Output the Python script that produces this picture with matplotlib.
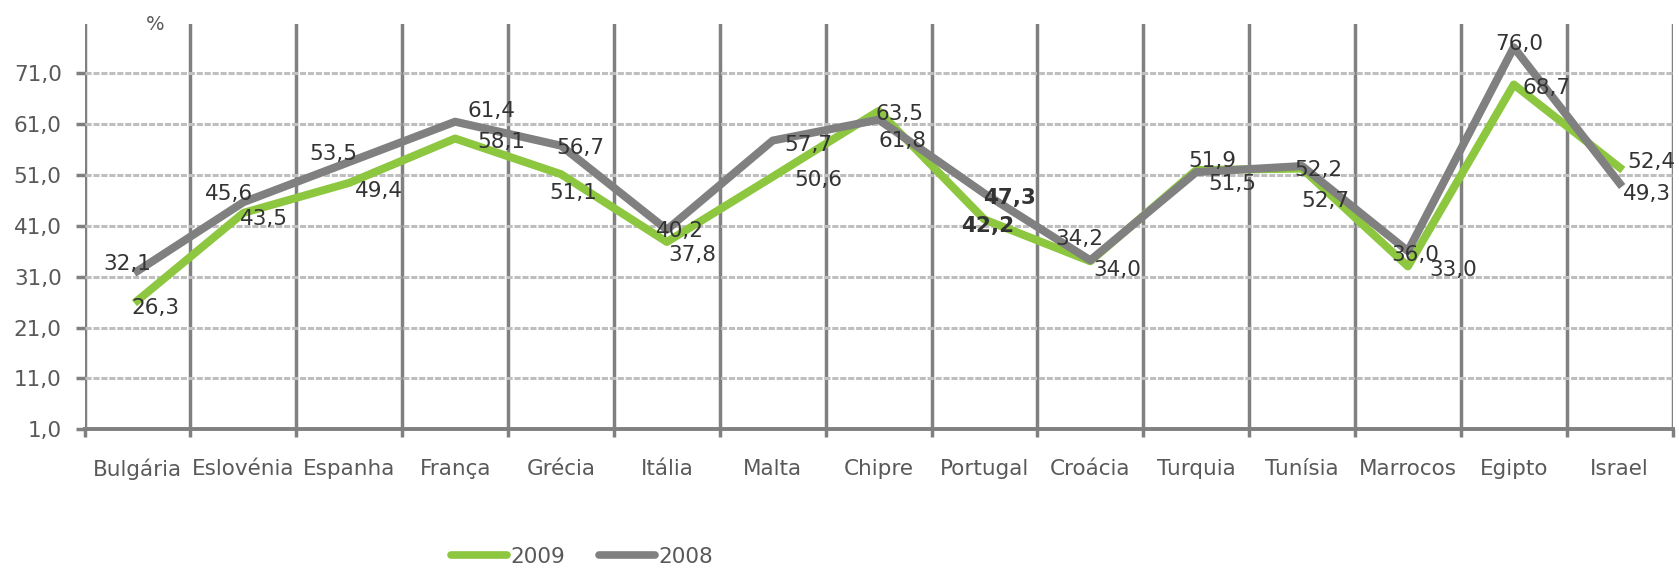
import numpy as np
import matplotlib
matplotlib.use("Agg")
import matplotlib.pyplot as plt
from matplotlib.lines import Line2D

paises = ["Bulgária", "Eslovénia", "Espanha", "França", "Grécia", "Itália", "Malta",
          "Chipre", "Portugal", "Croácia", "Turquia", "Tunísia", "Marrocos", "Egipto", "Israel"]
v2009 = [26.3, 43.5, 49.4, 58.1, 51.1, 37.8, 50.6, 63.5, 42.2, 34.0, 51.9, 52.2, 33.0, 68.7, 52.4]
v2008 = [32.1, 45.6, 53.5, 61.4, 56.7, 40.2, 57.7, 61.8, 47.3, 34.2, 51.5, 52.7, 36.0, 76.0, 49.3]
yticks = [1, 11, 21, 31, 41, 51, 61, 71]

# deslocamentos dos rotulos (pixels, y para baixo)
off09 = [(18, 7), (21, 6), (30, 8), (46, 3), (12, 19), (25, 13), (46, 3), (21, 3),
         (3, 6), (27, 9), (16, -9), (16, 1), (45, 4), (33, 3), (32, -6)]
off08 = [(-10, -7), (-14, -8), (-16, -8), (36, -11), (19, 2), (13, 1), (36, 4), (24, 21),
         (25, 4), (-11, -21), (36, 12), (23, 35), (7, 4), (5, -3), (27, 11)]
negrito = ["Portugal"]

VERDE = "#8DC63F"; CINZA = "#808080"; TXT = "#595959"; LAB = "#333333"
plt.rcParams.update({"font.family": "DejaVu Sans", "font.size": 15.5})

fig = plt.figure(figsize=(16.79, 5.68), dpi=100)
ax = fig.add_axes([84.6/1679, 1-429.4/568, (1672.6-84.6)/1679, (429.4-23.6)/568])

x = np.arange(len(paises)) + 0.5
ax.plot(x, v2009, color=VERDE, lw=5.8, solid_joinstyle="round", zorder=3)
ax.plot(x, v2008, color=CINZA, lw=5.8, solid_joinstyle="round", zorder=4)

for i, p in enumerate(paises):
    fw = "bold" if p in negrito else "normal"
    for vals, offs in ((v2009, off09), (v2008, off08)):
        dx, dy = offs[i]
        ax.annotate(f"{vals[i]:.1f}".replace(".", ","), (x[i], vals[i]),
                    textcoords="offset pixels", xytext=(dx, -dy), ha="center", va="center",
                    color=LAB, fontsize=15.5, fontweight=fw, zorder=6)

ax.set_xlim(0, len(paises)); ax.set_ylim(1, 80.66)
ax.set_xticks(x); ax.set_xticklabels(paises, color=TXT)
ax.set_xticks(np.arange(len(paises) + 1), minor=True)
ax.tick_params(axis="x", which="major", length=0, pad=21)
ax.tick_params(axis="x", which="minor", length=6, width=2.5, color=CINZA, direction="out")
ax.set_yticks(yticks); ax.set_yticklabels([f"{t:.1f}".replace(".", ",") for t in yticks], color=TXT)
ax.tick_params(axis="y", length=6.5, width=2.5, color=CINZA, pad=10)

ax.grid(which="minor", axis="x", color=CINZA, lw=2.5, zorder=1)
for t in yticks[1:]:
    ax.axhline(t, color="#BFBFBF", lw=2.2, ls=(0, (2, 0.6)), zorder=1)
for s in ("top", "right"):
    ax.spines[s].set_visible(False)
ax.spines["left"].set_visible(False)
ax.spines["bottom"].set_color(CINZA); ax.spines["bottom"].set_linewidth(2.8)
ax.set_axisbelow(True)

fig.text(155/1679, 1-24/568, "%", color=TXT, fontsize=14, ha="center", va="center")

hs = [Line2D([], [], color=VERDE, lw=5.5, solid_capstyle="round"),
      Line2D([], [], color=CINZA, lw=5.5, solid_capstyle="round")]
fig.legend(hs, ["2009", "2008"], loc="center", bbox_to_anchor=(582/1679, 1-557/568), ncol=2,
           frameon=False, handlelength=2.6, handletextpad=0.15, columnspacing=1.6,
           labelcolor=TXT, fontsize=15.5, borderpad=0)

fig.savefig("out.png", dpi=100)
